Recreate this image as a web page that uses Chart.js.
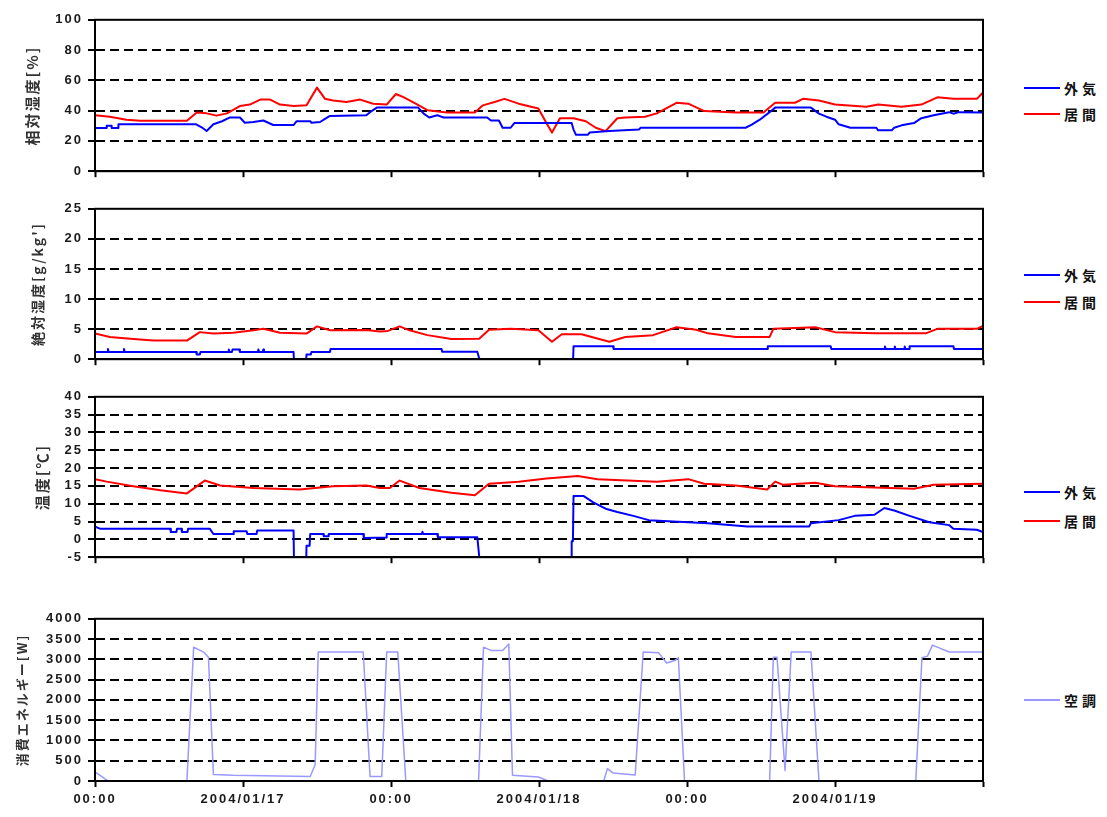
<!DOCTYPE html>
<html><head><meta charset="utf-8">
<script src="https://cdn.jsdelivr.net/npm/chart.js@4.4.1/dist/chart.umd.min.js"></script>
<style>
body{margin:0;background:#fff;width:1107px;height:817px;position:relative;overflow:hidden;}
.panel{position:absolute;left:0;}
.leg{position:absolute;left:1024px;display:flex;align-items:center;height:18px;}
.leg i{display:inline-block;width:36px;height:2px;margin-right:4px;}
.leg span{font:bold 14px 'Noto Sans CJK JP';letter-spacing:4px;color:#111;line-height:18px;}
</style></head><body>
<div class="panel" style="top:7px"><canvas id="c1" width="1000" height="177"></canvas></div>
<div class="panel" style="top:196px"><canvas id="c2" width="1000" height="176"></canvas></div>
<div class="panel" style="top:384px"><canvas id="c3" width="1000" height="186"></canvas></div>
<div class="panel" style="top:606px"><canvas id="c4" width="1000" height="211"></canvas></div>

<div class="leg" style="top:79px"><i style="background:#0000ff"></i><span>外気</span></div>
<div class="leg" style="top:105px"><i style="background:#ff0000"></i><span>居間</span></div>
<div class="leg" style="top:266px"><i style="background:#0000ff"></i><span>外気</span></div>
<div class="leg" style="top:293px"><i style="background:#ff0000"></i><span>居間</span></div>
<div class="leg" style="top:483px"><i style="background:#0000ff"></i><span>外気</span></div>
<div class="leg" style="top:512px"><i style="background:#ff0000"></i><span>居間</span></div>
<div class="leg" style="top:691px"><i style="background:#9999ff"></i><span>空調</span></div>

<script>
// x in hours from 2004/01/16 00:00
const xTickLabels = ['00:00','2004/01/17','00:00','2004/01/18','00:00','2004/01/19',''];
const seriesNames = {outside:'外気', living:'居間', aircon:'空調'};

// 相対湿度[%]  [hour, value]
const rhOutside = [[0,28.5],[0.95,28.5],[0.95,30],[1.35,30],[1.35,28.5],[1.9,28.5],[1.9,31],[8.2,31],[8.65,29],[9.05,26.5],[9.6,31],[10.3,33],[10.95,35.5],[11.75,35.5],[12.15,32],[12.85,32.5],[13.65,33.5],[14.05,32],[14.45,30.5],[16.1,30.5],[16.35,33],[17.45,33],[17.55,32],[18.25,32.5],[18.65,34.5],[19.05,36.5],[22.0,37],[22.3,39],[22.85,42],[26.2,42],[26.65,38],[27.1,35.5],[27.75,37],[28.25,35.5],[31.8,35.5],[32.1,33.5],[32.75,33.5],[33.05,28.7],[33.7,28.7],[34.0,31.8],[38.65,31.8],[38.8,27.5],[39.0,24],[39.95,24],[40.1,25.5],[41.7,26.5],[44.1,27.5],[44.25,28.7],[52.75,28.7],[53.25,30.8],[53.9,34],[54.7,39],[55.15,42],[58.05,42],[58.7,38],[59.3,36],[60.0,34],[60.3,31],[61.25,28.7],[63.35,28.7],[63.5,27],[64.6,27],[64.8,28.7],[65.4,30.3],[66.4,31.8],[67.0,35],[68.0,37],[69.25,39],[69.6,38],[70.05,39],[72,38.8]];
const rhLiving = [[0,37],[1.2,36],[2.55,34],[3.65,33.3],[7.45,33.3],[8.25,38.8],[9.05,38.2],[9.85,36.7],[10.7,38.2],[11.75,43],[12.55,44],[13.4,47.3],[14.2,47.3],[15.0,44],[16.1,43],[17.15,43.5],[18.0,55.2],[18.65,47.8],[19.3,46.7],[20.4,45.7],[21.5,47.3],[22.55,44.6],[23.65,44],[24.4,51],[25.05,48.8],[26.0,44.6],[26.95,40.3],[28.55,38.8],[30.8,38.8],[31.45,43.5],[32.4,45.7],[33.2,47.8],[34.35,44.6],[35.95,41.4],[36.6,31.8],[37.05,25.5],[37.7,35],[38.8,35],[39.8,33],[40.6,28.7],[41.4,26.5],[42.35,35],[43.0,35.5],[44.6,36],[45.55,38.2],[47.15,45.2],[48.1,44.6],[49.4,39.7],[51.95,38.8],[54.2,38.8],[55.15,45.2],[56.75,45.2],[57.4,47.8],[58.7,46.7],[60.0,44],[62.55,42.5],[63.5,44],[65.4,42.5],[67.0,44],[68.3,48.8],[69.6,47.8],[71.5,47.8],[72,52]];

// 絶対湿度[g/kg']
const ahOutside = [[0,1.2],[1.0,1.2],[1.05,1.7],[1.1,1.2],[2.3,1.2],[2.35,1.7],[2.4,1.2],[8.2,1.2],[8.25,0.8],[8.5,0.8],[8.55,1.2],[10.8,1.2],[10.85,1.6],[10.9,1.2],[11.1,1.2],[11.15,1.6],[11.7,1.6],[11.75,1.2],[13.2,1.2],[13.25,1.6],[13.3,1.2],[13.6,1.2],[13.65,1.6],[13.7,1.2],[16.1,1.2],[16.15,-1],[17.1,-1],[17.15,0.8],[17.5,0.8],[17.55,1.2],[19.05,1.2],[19.1,1.7],[28.1,1.7],[28.15,1.25],[31.0,1.25],[31.3,-1],[38.75,-1],[38.8,2.15],[42.0,2.15],[42.05,1.7],[54.5,1.7],[54.55,2.15],[59.65,2.15],[59.7,1.7],[64.0,1.7],[64.05,2.1],[64.1,1.7],[64.8,1.7],[64.85,2.1],[64.9,1.7],[65.6,1.7],[65.65,2.1],[65.7,1.7],[66.0,1.7],[66.05,2.15],[69.6,2.15],[69.65,1.7],[72,1.7]];
const ahLiving = [[0,4.26],[1.2,3.7],[3.1,3.35],[4.75,3.1],[7.45,3.1],[8.5,4.5],[9.6,4.26],[11.2,4.4],[12.85,4.8],[13.65,5.05],[15.0,4.4],[17.15,4.26],[18.0,5.45],[19.05,4.8],[22.0,4.85],[23.1,4.6],[23.75,4.7],[24.7,5.45],[25.5,4.8],[26.95,4.0],[28.9,3.35],[31.15,3.4],[31.95,4.9],[33.7,5.05],[35.95,4.8],[37.05,2.9],[37.85,4.15],[39.45,4.15],[41.7,2.9],[43.0,3.7],[45.25,4.0],[47.15,5.3],[48.75,4.9],[49.7,4.3],[51.95,3.7],[54.7,3.7],[55.0,5.05],[58.4,5.3],[60.0,4.5],[63.2,4.3],[67.35,4.3],[68.3,5.05],[71.5,5.05],[72,5.55]];

// 温度[℃]
const tempOutside = [[0,3.6],[0.4,3.0],[6.1,3.0],[6.15,2.05],[6.6,2.05],[6.65,3.0],[7.0,3.0],[7.05,2.05],[7.5,2.05],[7.55,3.0],[9.3,3.0],[9.6,1.5],[11.2,1.5],[11.25,2.25],[12.3,2.25],[12.35,1.5],[13.1,1.5],[13.15,2.5],[16.1,2.5],[16.15,-10],[17.1,-10],[17.15,-1.8],[17.4,-1.8],[17.45,1.5],[18.5,1.5],[18.55,0.9],[18.9,0.9],[18.95,1.5],[21.75,1.5],[21.8,0.4],[23.6,0.5],[23.65,1.5],[26.5,1.5],[26.55,2.1],[26.6,1.5],[27.75,1.5],[27.8,0.6],[31.0,0.6],[31.3,-10],[38.6,-10],[38.65,-0.5],[38.75,-0.5],[38.8,12.2],[39.6,12.2],[40.4,10.4],[41.4,8.6],[42.35,7.7],[43.65,6.6],[44.9,5.4],[48.1,4.8],[49.7,4.5],[52.9,3.6],[57.9,3.6],[58.05,4.5],[60.3,5.4],[61.6,6.6],[63.2,6.9],[64.0,8.8],[64.8,8.1],[66.05,6.6],[67.65,4.8],[69.25,4.0],[69.6,3.0],[71.5,2.7],[72,2.05]];
const tempLiving = [[0,16.9],[0.95,16.2],[3.1,14.9],[5.3,13.8],[7.45,12.9],[8.9,16.5],[10.15,15.1],[12.85,14.4],[16.6,14.0],[19.3,14.9],[22.0,15.1],[23.1,14.4],[23.9,14.4],[24.7,16.5],[26.3,14.4],[28.9,13.1],[30.8,12.4],[31.95,15.6],[34.35,16.2],[36.6,17.1],[39.15,17.8],[40.75,16.9],[45.55,16.2],[48.1,16.9],[49.4,15.6],[51.95,15.1],[54.5,14.0],[55.15,16.2],[55.8,15.3],[58.4,15.9],[60.0,14.9],[66.4,14.2],[68.0,15.3],[72,15.6]];

// 消費エネルギー[W]
const power = [[0,225],[0.95,20],[1.2,0],[7.45,0],[8.0,3300],[8.8,3180],[9.2,3050],[9.6,160],[11.2,140],[17.45,110],[17.85,400],[18.1,3180],[21.75,3180],[22.3,110],[23.25,110],[23.65,3180],[24.55,3180],[25.2,0],[31.1,0],[31.5,3300],[32.1,3220],[33.05,3220],[33.55,3380],[33.85,140],[35.95,100],[36.75,0],[41.25,0],[41.55,305],[42.0,200],[43.8,150],[44.45,3180],[45.7,3160],[46.35,2910],[47.0,2970],[47.3,3040],[47.8,0],[54.7,0],[55.0,3050],[55.3,3050],[55.95,260],[56.45,3180],[58.05,3180],[58.7,0],[66.55,0],[67.05,3040],[67.5,3080],[67.9,3350],[69.25,3180],[72,3180]];

const toXY = arr => arr.map(p => ({x:p[0], y:p[1]}));
const tickFont = {family:'Liberation Sans', size:13, weight:'bold'};

const framePlugin = {
  id:'frame',
  beforeLayout(c){ c.ctx.letterSpacing = '2px'; },
  beforeDraw(c){ c.ctx.letterSpacing = '2px'; },
  afterDraw(c){
    const a = c.chartArea, ctx = c.ctx;
    ctx.save(); ctx.lineWidth = 2; ctx.strokeStyle = '#000';
    ctx.strokeRect(a.left, a.top, a.right - a.left, a.bottom - a.top);
    ctx.restore();
  }
};

function makeChart(id, datasets, yMin, yMax, yStep, title, titleSize, titleCenter, showX, xH){
  new Chart(document.getElementById(id), {
    type:'line',
    data:{datasets},
    options:{
      responsive:false, animation:false, devicePixelRatio:1,
      layout:{padding:{left:0,right:17,top:10,bottom:0}},
      plugins:{legend:{display:false}, tooltip:{enabled:false}},
      elements:{point:{radius:0}, line:{tension:0, borderJoinStyle:'round', borderCapStyle:'round'}},
      scales:{
        x:{type:'linear', min:0, max:72,
          ticks:{stepSize:12, display:showX, autoSkip:false, maxRotation:0, color:'#1a1a1a', font:tickFont, padding:5,
            callback:v => xTickLabels[Math.round(v/12)]},
          grid:{drawOnChartArea:false, drawTicks:true, tickLength:6, tickColor:'#000', tickWidth:2},
          border:{color:'#000', width:2},
          afterFit(s){ s.height = xH; }
        },
        y:{min:yMin, max:yMax,
          ticks:{stepSize:yStep, color:'#1a1a1a', font:tickFont, padding:5, callback:v => String(v)},
          grid:{color:ctx => (ctx.tick && (ctx.tick.value===yMin || ctx.tick.value===yMax)) ? 'rgba(0,0,0,0)' : '#000',
                lineWidth:2, tickColor:'#000', tickLength:7, tickWidth:2},
          border:{color:'#000', width:2, dash:[9,5]},
          title:{display:true, text:title, color:'#333', font:{family:'Noto Sans CJK JP', size:titleSize, weight:'bold'},
                 padding:{top:titleCenter - titleSize*0.6, bottom:0}},
          afterFit(s){ s.width = 95; }
        }
      }
    },
    plugins:[framePlugin]
  });
}

const blue = '#0000ff', red = '#ff0000', lilac = '#9999ff';
makeChart('c1', [
  {label:seriesNames.outside, data:toXY(rhOutside), borderColor:blue, borderWidth:2},
  {label:seriesNames.living, data:toXY(rhLiving), borderColor:red, borderWidth:2}
], 0, 100, 20, '相対湿度[%]', 15, 32, false, 10);
makeChart('c2', [
  {label:seriesNames.outside, data:toXY(ahOutside), borderColor:blue, borderWidth:2},
  {label:seriesNames.living, data:toXY(ahLiving), borderColor:red, borderWidth:2}
], 0, 25, 5, "絶対湿度[g/kg']", 14, 38, false, 10);
makeChart('c3', [
  {label:seriesNames.outside, data:toXY(tempOutside), borderColor:blue, borderWidth:2},
  {label:seriesNames.living, data:toXY(tempLiving), borderColor:red, borderWidth:2}
], -5, 40, 5, '温度[℃]', 15, 42, false, 10);
makeChart('c4', [
  {label:seriesNames.aircon, data:toXY(power), borderColor:lilac, borderWidth:1.5}
], 0, 4000, 500, '消費エネルギー[W]', 13, 22, true, 36);
</script>
</body></html>
